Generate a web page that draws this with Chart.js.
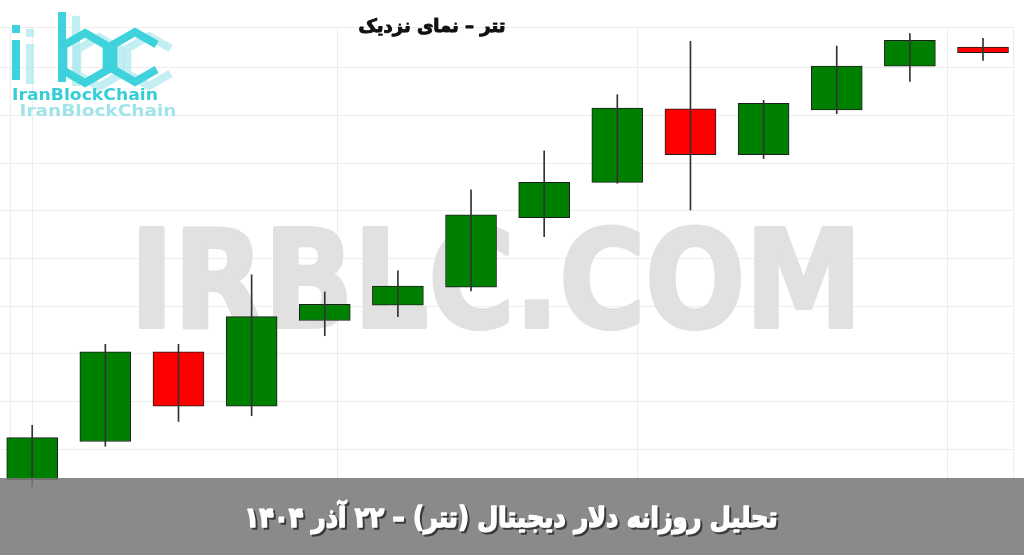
<!DOCTYPE html>
<html lang="fa">
<head>
<meta charset="UTF-8">
<title>تتر – نمای نزدیک</title>
<script src="https://cdn.jsdelivr.net/npm/chart.js"></script>
<style>
    body { margin: 0; background: #fff; overflow: hidden; }
    canvas { display: block; }
</style>
</head>
<body>
<canvas id="usdtChart" width="1024" height="555"></canvas>
<script>
// daily candles, toman
const days  = [0, 1, 2, 3, 4, 5, 6, 7, 8, 9, 10, 11, 12, 13];
const opens  = [124180, 124580, 125520, 124950, 125850, 126010, 126200, 126930, 127300, 128070, 127590, 128060, 128520, 128720];
const closes = [124620, 125520, 124950, 125890, 126020, 126210, 126960, 127300, 128080, 127590, 128130, 128520, 128790, 128660];
const highs  = [124750, 125600, 125600, 126330, 126150, 126370, 127220, 127630, 128220, 128780, 128160, 128730, 128860, 128810];
const lows   = [124110, 124530, 124790, 124850, 125690, 125890, 126160, 126730, 127290, 127010, 127550, 128020, 128360, 128580];

// grid positions
const xMin = -0.4403;
const xGrid = [-0.3035, 0, 4.18, 8.28, 12.51, 13.41];
const yGrid = [124050, 124500, 125000, 125500, 126000, 126500, 127000, 127500, 128000, 128500, 128930];

const titleText = 'تتر – نمای نزدیک';
const bannerText = 'تحلیل روزانه دلار دیجیتال (تتر) – ۲۲ آذر ۱۴۰۴';

const upColor = '#008000';
const downColor = '#ff0000';

// text squeezed/stretched to a given width, optional faux-bold stroke
function fitText(ctx, text, cx, cy, width, stroke) {
    const w = ctx.measureText(text).width;
    ctx.save();
    ctx.translate(cx, cy);
    ctx.scale(width / w, 1);
    if (stroke) {
        ctx.strokeStyle = ctx.fillStyle;
        ctx.lineWidth = stroke;
        ctx.lineJoin = 'round';
        ctx.strokeText(text, 0, 0);
    }
    ctx.fillText(text, 0, 0);
    ctx.restore();
}

function drawLogo(ctx, dx, dy, color) {
    ctx.save();
    ctx.translate(dx, dy);
    ctx.strokeStyle = color;
    ctx.fillStyle = color;
    ctx.lineWidth = 8;
    ctx.lineJoin = 'miter';
    // i
    ctx.fillRect(12, 40, 8, 40);
    ctx.fillRect(12, 25, 8, 8);
    // b
    ctx.fillRect(58, 12, 8, 70);
    const hex = (cx, cy, r, open) => {
        const pts = [];
        for (let k = 0; k < 6; k++) {
            const a = (-90 + 60 * k) * Math.PI / 180;
            pts.push([cx + r * Math.cos(a), cy + r * Math.sin(a)]);
        }
        ctx.beginPath();
        if (open) {
            const order = [1, 0, 5, 4, 3, 2];
            ctx.moveTo(pts[order[0]][0], pts[order[0]][1]);
            for (let k = 1; k < order.length; k++) ctx.lineTo(pts[order[k]][0], pts[order[k]][1]);
        } else {
            ctx.moveTo(pts[0][0], pts[0][1]);
            for (let k = 1; k < 6; k++) ctx.lineTo(pts[k][0], pts[k][1]);
            ctx.closePath();
        }
        ctx.stroke();
    };
    hex(85, 58, 25, false);
    hex(135, 57, 25, true);
    ctx.restore();
}

const pagePlugin = {
    id: 'page',
    beforeDraw(chart) {
        const ctx = chart.ctx;
        ctx.save();
        ctx.fillStyle = '#fff';
        ctx.fillRect(0, 0, chart.width, chart.height);
        ctx.restore();
    },
    beforeDatasetsDraw(chart) {
        const ctx = chart.ctx;
        ctx.save();
        ctx.fillStyle = '#e1e1e1';
        ctx.font = 'bold 136px "DejaVu Sans"';
        ctx.textAlign = 'center';
        ctx.textBaseline = 'alphabetic';
        fitText(ctx, 'IRBLC.COM', 496, 327, 732, 4);
        ctx.restore();
    },
    afterDatasetsDraw(chart) {
        const ctx = chart.ctx;
        ctx.save();
        // logo
        drawLogo(ctx, 14, 4, 'rgba(170,232,238,0.7)');
        drawLogo(ctx, 0, 0, '#3ed2dc');
        ctx.textAlign = 'center';
        ctx.textBaseline = 'middle';
        ctx.font = 'bold 15px "DejaVu Sans"';
        ctx.fillStyle = 'rgba(150,225,232,0.9)';
        fitText(ctx, 'IranBlockChain', 98, 112, 157);
        ctx.fillStyle = '#36cdd7';
        fitText(ctx, 'IranBlockChain', 85, 96, 146);
        // title
        ctx.fillStyle = '#111';
        ctx.font = 'bold 18px "DejaVu Sans"';
        fitText(ctx, titleText, 432, 27, 147, 1);
        ctx.restore();
    },
    afterDraw(chart) {
        const ctx = chart.ctx;
        ctx.save();
        ctx.fillStyle = 'rgba(122,122,122,0.88)';
        ctx.fillRect(0, 478, chart.width, chart.height - 478);
        ctx.font = 'bold 28px "DejaVu Sans"';
        ctx.textAlign = 'center';
        ctx.textBaseline = 'middle';
        ctx.fillStyle = '#3a3a3a';
        fitText(ctx, bannerText, 513, 522, 533, 1.6);
        ctx.fillStyle = '#fff';
        fitText(ctx, bannerText, 511, 520, 533, 1.6);
        ctx.restore();
    }
};

const bodies = days.map((d, i) => ({ x: d, y: [opens[i], closes[i]] }));
const wicks = days.map((d, i) => ({ x: d, y: [lows[i], highs[i]] }));
const bodyColors = days.map((d, i) => closes[i] >= opens[i] ? upColor : downColor);

new Chart(document.getElementById('usdtChart'), {
    type: 'bar',
    data: {
        datasets: [
            {
                label: 'wick',
                data: wicks,
                backgroundColor: '#333',
                barThickness: 1,
                grouped: false,
                order: 0
            },
            {
                label: 'body',
                data: bodies,
                backgroundColor: bodyColors,
                borderColor: '#1c1c1c',
                borderWidth: 1,
                borderSkipped: false,
                barThickness: 51,
                grouped: false,
                order: 1
            }
        ]
    },
    options: {
        responsive: false,
        animation: false,
        layout: { padding: { left: 0, right: 11, top: 27, bottom: 63 } },
        plugins: {
            legend: { display: false },
            tooltip: { enabled: false },
            title: { display: false }
        },
        scales: {
            x: {
                type: 'linear',
                min: xMin,
                max: xGrid[xGrid.length - 1],
                offset: false,
                afterBuildTicks: s => { s.ticks = xGrid.map(v => ({ value: v })); },
                ticks: { display: false },
                grid: { color: '#ededed', drawTicks: false, offset: false },
                border: { display: false }
            },
            y: {
                min: yGrid[0],
                max: yGrid[yGrid.length - 1],
                afterBuildTicks: s => { s.ticks = yGrid.map(v => ({ value: v })); },
                ticks: { display: false },
                grid: { color: '#ededed', drawTicks: false },
                border: { display: false }
            }
        }
    },
    plugins: [pagePlugin]
});
</script>
</body>
</html>
